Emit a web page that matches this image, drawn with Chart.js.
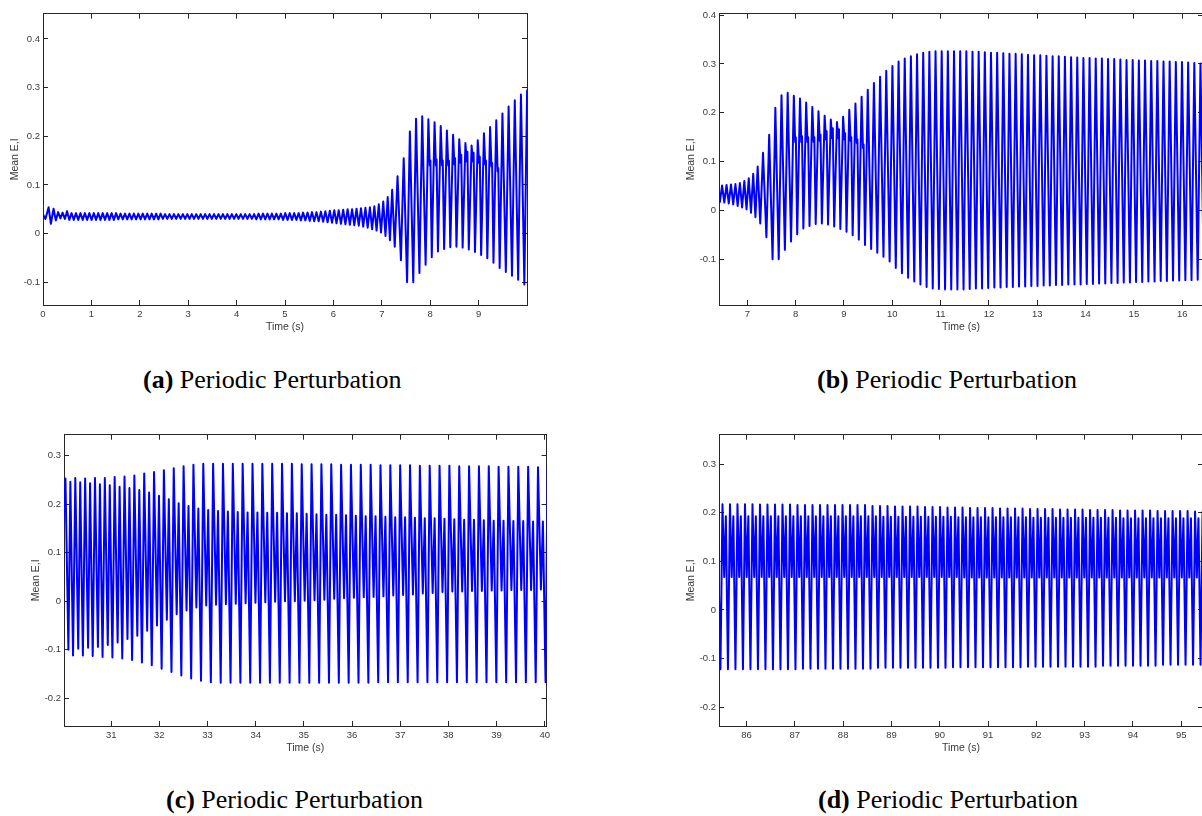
<!DOCTYPE html>
<html>
<head>
<meta charset="utf-8">
<script src="https://cdn.jsdelivr.net/npm/chart.js@4.4.1/dist/chart.umd.min.js"></script>
<style>
  html, body { margin: 0; padding: 0; background: #fff; }
  body { width: 1202px; height: 816px; overflow: hidden; position: relative; }
  canvas { position: absolute; }
  .cap { position: absolute; font-family: "Liberation Serif", "Times New Roman", serif; font-size: 26px;
         line-height: 26px; color: #000; white-space: nowrap; }
  .cap b { font-weight: bold; }
</style>
</head>
<body>
<canvas id="pa"></canvas>
<canvas id="pb"></canvas>
<canvas id="pc"></canvas>
<canvas id="pd"></canvas>
<div class="cap" style="left:143px;top:367px"><b>(a)</b> Periodic Perturbation</div>
<div class="cap" style="left:817px;top:367px"><b>(b)</b> Periodic Perturbation</div>
<div class="cap" style="left:166px;top:787px"><b>(c)</b> Periodic Perturbation</div>
<div class="cap" style="left:818px;top:787px"><b>(d)</b> Periodic Perturbation</div>
<script>
// ---------- Run 1 (0 – 16.5 s), shown in panels (a) and (b) ----------
// start-up transient: explicit turning points
const transientT = [0.000, 0.050, 0.116, 0.163, 0.218, 0.265, 0.313, 0.360, 0.405, 0.452, 0.498];
const transientV = [0.039, 0.030, 0.054, 0.020, 0.051, 0.027, 0.044, 0.031, 0.043, 0.030, 0.046];

// small fast oscillation: trough at smallStart + k*smallPeriod, peak half a period later
const smallStart = 0.544;
const smallPeriod = 0.092;
const smallTroughs = [
  0.028, 0.028, 0.028, 0.028, 0.028, 0.028, 0.028, 0.028, 0.028, 0.028, 0.028,
  0.029, 0.029, 0.029, 0.029, 0.029, 0.029, 0.029, 0.029, 0.029, 0.029,
  0.030, 0.030, 0.030, 0.030, 0.030, 0.030, 0.030, 0.030, 0.030, 0.030,
  0.030, 0.030, 0.030, 0.030, 0.030, 0.030, 0.030, 0.030, 0.030, 0.030,
  0.030, 0.029, 0.029, 0.029, 0.029, 0.029,
  0.029, 0.028, 0.028, 0.028,
  0.028, 0.027, 0.027,
  0.026, 0.025, 0.025,
  0.024, 0.023, 0.022,
  0.021, 0.020, 0.019,
  0.018, 0.017, 0.016,
  0.014, 0.012, 0.009, 0.006, 0.002, -0.005, -0.014
];
const smallPeaks = [
  0.042, 0.042, 0.042, 0.042, 0.042, 0.042, 0.042, 0.042, 0.042, 0.042, 0.042,
  0.041, 0.041, 0.041, 0.041, 0.041, 0.041, 0.041, 0.041, 0.041, 0.041,
  0.040, 0.040, 0.040, 0.040, 0.040, 0.040, 0.040, 0.040, 0.040, 0.040,
  0.040, 0.040, 0.040, 0.040, 0.040, 0.040, 0.040, 0.040, 0.040, 0.040,
  0.040, 0.041, 0.041, 0.041, 0.041, 0.041,
  0.041, 0.042, 0.042, 0.042,
  0.042, 0.043, 0.043,
  0.044, 0.044, 0.045,
  0.046, 0.047, 0.048,
  0.048, 0.049, 0.050,
  0.050, 0.051, 0.052,
  0.053, 0.054, 0.056, 0.060, 0.066, 0.075, 0.090
];

// large slow oscillation: trough at bigStart + i*bigPeriod, peak bigRise later
const bigStart = 7.2675;
const bigPeriod = 0.1275;
const bigRise = 0.0575;
const bigTroughs = [
  -0.027, -0.055, -0.100, -0.100, -0.081, -0.064, -0.049, -0.037, -0.032, -0.028,
  -0.027, -0.029, -0.033, -0.038, -0.044, -0.051, -0.060, -0.071, -0.079, -0.087,
  -0.095, -0.105, -0.118, -0.129, -0.138, -0.146, -0.152, -0.157, -0.160, -0.161,
  -0.162, -0.162, -0.162, -0.162, -0.161, -0.160, -0.160, -0.159, -0.158, -0.158,
  -0.157, -0.157, -0.156, -0.156, -0.155, -0.155, -0.154, -0.154, -0.153, -0.153,
  -0.152, -0.152, -0.152, -0.151, -0.151, -0.150, -0.150, -0.149, -0.149, -0.148,
  -0.148, -0.147, -0.147, -0.146, -0.146, -0.145, -0.145, -0.144, -0.144, -0.143,
  -0.143, -0.142, -0.142
];
const bigPeaks = [
  0.118, 0.155, 0.210, 0.236, 0.241, 0.235, 0.229, 0.221, 0.212, 0.203,
  0.194, 0.186, 0.181, 0.192, 0.206, 0.219, 0.233, 0.247, 0.261, 0.274,
  0.286, 0.296, 0.305, 0.311, 0.316, 0.320, 0.323, 0.325, 0.326, 0.326,
  0.326, 0.326, 0.326, 0.326, 0.325, 0.325, 0.324, 0.323, 0.323, 0.322,
  0.321, 0.321, 0.320, 0.319, 0.318, 0.318, 0.317, 0.316, 0.316, 0.315,
  0.314, 0.313, 0.312, 0.312, 0.311, 0.311, 0.310, 0.310, 0.309, 0.308,
  0.308, 0.307, 0.307, 0.306, 0.306, 0.305, 0.305, 0.304, 0.304, 0.303,
  0.302, 0.301, 0.301
];
// small notch on the falling edge of some large cycles
const notchCycles = [5, 6, 7, 8, 9, 10, 11, 12, 13, 14, 15, 16];
const notchLow    = [0.140, 0.140, 0.140, 0.140, 0.142, 0.145, 0.148, 0.148, 0.145, 0.142, 0.138, 0.128];
const notchHigh   = [0.150, 0.152, 0.150, 0.150, 0.155, 0.162, 0.168, 0.166, 0.158, 0.150, 0.145, 0.135];

// ---------- Run 2 (30 – 40 s), panel (c): period-2 cycle  high peak, shallow trough, mid peak, deep trough ----------
const cLead = [30.0, 0.14];
const cStart = 30.05;
const cPeriod = 0.2044;
const cPhase = [0, 0.30, 0.50, 0.77];
const cHigh = [
  0.253, 0.254, 0.253, 0.254, 0.254, 0.256, 0.257, 0.259, 0.263, 0.266,
  0.270, 0.274, 0.278, 0.281, 0.283, 0.283, 0.283, 0.283, 0.283, 0.283,
  0.283, 0.283, 0.283, 0.283, 0.282, 0.282, 0.282, 0.282, 0.281, 0.281,
  0.281, 0.281, 0.280, 0.280, 0.280, 0.280, 0.279, 0.279, 0.279, 0.279,
  0.278, 0.278, 0.278, 0.278, 0.277, 0.277, 0.277, 0.277, 0.276
];
const cShallow = [
  -0.100, -0.098, -0.096, -0.094, -0.090, -0.085, -0.078, -0.071, -0.061, -0.050,
  -0.038, -0.027, -0.019, -0.013, -0.009, -0.007, -0.006, -0.005, -0.004, -0.003,
  -0.002, -0.001, 0.000, 0.000, 0.001, 0.002, 0.003, 0.005, 0.006, 0.007,
  0.008, 0.009, 0.010, 0.012, 0.013, 0.014, 0.016, 0.017, 0.019, 0.020,
  0.020, 0.021, 0.021, 0.022, 0.022, 0.023, 0.023, 0.023, 0.024
];
const cMid = [
  0.246, 0.245, 0.243, 0.241, 0.239, 0.236, 0.233, 0.229, 0.224, 0.217,
  0.210, 0.202, 0.196, 0.191, 0.188, 0.186, 0.185, 0.184, 0.183, 0.183,
  0.182, 0.182, 0.181, 0.181, 0.180, 0.179, 0.178, 0.178, 0.177, 0.176,
  0.175, 0.175, 0.174, 0.173, 0.173, 0.172, 0.171, 0.171, 0.170, 0.169,
  0.168, 0.168, 0.167, 0.166, 0.166, 0.165, 0.165, 0.164, 0.164
];
const cDeep = [
  -0.112, -0.112, -0.113, -0.115, -0.116, -0.118, -0.121, -0.126, -0.132, -0.139,
  -0.146, -0.153, -0.159, -0.164, -0.167, -0.168, -0.168, -0.168, -0.168, -0.168,
  -0.168, -0.168, -0.168, -0.168, -0.168, -0.168, -0.168, -0.168, -0.168, -0.168,
  -0.168, -0.167, -0.167, -0.167, -0.167, -0.167, -0.167, -0.167, -0.167, -0.167,
  -0.167, -0.167, -0.167, -0.167, -0.167, -0.167, -0.167, -0.167, -0.167
];
const cTail = [40.06, 0.276];

// ---------- Run 3 (85.4 – 95.5 s), panel (d): deep trough, high peak, shallow trough, mid peak ----------
const dLead = [85.40, 0.19];
const dStart = 85.46;
const dPeriod = 0.1553;
const dPhase = [0, 0.27, 0.50, 0.72];
const dDeep = [
  -0.122, -0.122, -0.122, -0.122, -0.122, -0.122, -0.122, -0.122, -0.122, -0.122, -0.122,
  -0.121, -0.121, -0.121, -0.121, -0.121, -0.121, -0.121, -0.121, -0.121, -0.121,
  -0.119, -0.119, -0.119, -0.119, -0.119, -0.119, -0.119, -0.119, -0.119, -0.119,
  -0.118, -0.118, -0.118, -0.118, -0.118, -0.118, -0.118, -0.118, -0.118, -0.118,
  -0.117, -0.117, -0.117, -0.117, -0.117, -0.117, -0.117, -0.117, -0.117, -0.117,
  -0.115, -0.115, -0.115, -0.115, -0.115, -0.115, -0.115, -0.115,
  -0.113, -0.113, -0.113, -0.113, -0.113, -0.113
];
const dHigh = [
  0.218, 0.218, 0.218, 0.218, 0.218, 0.217, 0.217, 0.217, 0.217, 0.217,
  0.216, 0.216, 0.216, 0.216, 0.216, 0.216, 0.216, 0.216, 0.216, 0.216,
  0.214, 0.214, 0.214, 0.213, 0.213, 0.213, 0.213, 0.212, 0.212, 0.212,
  0.211, 0.211, 0.211, 0.210, 0.210, 0.210, 0.210, 0.209, 0.209, 0.209,
  0.209, 0.208, 0.208, 0.208, 0.208, 0.207, 0.207, 0.207, 0.207, 0.206,
  0.206, 0.206, 0.206, 0.205, 0.205, 0.205, 0.205, 0.205, 0.204, 0.204,
  0.204, 0.204, 0.204, 0.203, 0.203
];
const dShallow = [
  0.068, 0.068, 0.068, 0.068, 0.068, 0.068, 0.068, 0.068, 0.068, 0.068,
  0.068, 0.068, 0.068, 0.068, 0.068, 0.068, 0.068, 0.068, 0.068, 0.068,
  0.068, 0.068, 0.068, 0.068, 0.068, 0.068, 0.068, 0.068, 0.068, 0.068,
  0.068, 0.068, 0.067, 0.067, 0.067, 0.067, 0.067, 0.067, 0.067, 0.067,
  0.067, 0.067, 0.067, 0.067, 0.067, 0.067, 0.067, 0.067, 0.067, 0.067,
  0.067, 0.067, 0.067, 0.067, 0.067, 0.067, 0.067, 0.067, 0.067, 0.067,
  0.067, 0.067, 0.067, 0.067, 0.067
];
const dMid = [
  0.193, 0.193, 0.193, 0.193, 0.193, 0.193, 0.193, 0.193, 0.193, 0.193,
  0.193, 0.193, 0.193, 0.193, 0.193, 0.193, 0.193, 0.193, 0.193, 0.193, 0.193,
  0.192, 0.192, 0.192, 0.192, 0.192, 0.192, 0.192, 0.192, 0.192, 0.192,
  0.191, 0.191, 0.191, 0.191, 0.191, 0.191, 0.191, 0.191, 0.191, 0.191,
  0.190, 0.190, 0.190, 0.190, 0.190, 0.190, 0.190, 0.190, 0.190, 0.190, 0.190, 0.190,
  0.189, 0.189, 0.189, 0.189, 0.189, 0.189, 0.189, 0.189, 0.189, 0.189, 0.189, 0.189
];

// ---------- axis ranges and tick labels ----------
const aXRange = [0, 10.0],     aYRange = [-0.147, 0.452];
const bXRange = [6.414, 16.43], bYRange = [-0.194, 0.403];
const cXRange = [30.02, 40.04], cYRange = [-0.257, 0.343];
const dXRange = [85.43, 95.45], dYRange = [-0.239, 0.361];
const aXTicks = [0, 1, 2, 3, 4, 5, 6, 7, 8, 9];
const bXTicks = [7, 8, 9, 10, 11, 12, 13, 14, 15, 16];
const cXTicks = [31, 32, 33, 34, 35, 36, 37, 38, 39, 40];
const dXTicks = [86, 87, 88, 89, 90, 91, 92, 93, 94, 95];
const abYTicks = [-0.1, 0, 0.1, 0.2, 0.3, 0.4];
const cdYTicks = [-0.2, -0.1, 0, 0.1, 0.2, 0.3];

// ---------- build the traces ----------
function buildRun1() {
  const pts = [];
  transientT.forEach((t, i) => pts.push({ x: t, y: transientV[i] }));
  smallTroughs.forEach((v, k) => {
    const t = smallStart + k * smallPeriod;
    pts.push({ x: t, y: v });
    pts.push({ x: t + smallPeriod / 2, y: smallPeaks[k] });
  });
  bigTroughs.forEach((v, i) => {
    const t = bigStart + i * bigPeriod;
    pts.push({ x: t, y: v });
    pts.push({ x: t + bigRise, y: bigPeaks[i] });
    const n = notchCycles.indexOf(i);
    if (n >= 0) {
      pts.push({ x: t + bigRise + 0.028, y: notchLow[n] });
      pts.push({ x: t + bigRise + 0.042, y: notchHigh[n] });
    }
  });
  return pts;
}

function buildCycles(lead, start, period, phase, series, tail) {
  const pts = [{ x: lead[0], y: lead[1] }];
  series[0].forEach((_, j) => {
    const t = start + j * period;
    series.forEach((s, m) => pts.push({ x: t + phase[m] * period, y: s[j] }));
  });
  if (tail) pts.push({ x: tail[0], y: tail[1] });
  return pts;
}

const run1 = buildRun1();
const run2 = buildCycles(cLead, cStart, cPeriod, cPhase, [cHigh, cShallow, cMid, cDeep], cTail);
const run3 = buildCycles(dLead, dStart, dPeriod, dPhase, [dDeep, dHigh, dShallow, dMid], null);

// ---------- chart styling ----------
const FONT = '"Liberation Sans", Arial, Helvetica, sans-serif';
const AXIS_COLOR = '#262626';
const TEXT_COLOR = '#3a3a3a';
const TRACE_COLOR = '#0000ff';
const PAD_L = 43, PAD_T = 10, PAD_R = 10, PAD_B = 28;

function fmt(v) {
  if (Math.abs(v) < 1e-9) return '0';
  return Number.isInteger(v) ? String(v) : v.toFixed(1);
}

function scaleOpts(pos, range, ticks, withLabels, title) {
  const horiz = pos === 'bottom' || pos === 'top';
  const o = {
    type: 'linear', position: pos, min: range[0], max: range[1], bounds: 'data',
    afterBuildTicks: s => { s.ticks = ticks.map(v => ({ value: v })); },
    afterFit: s => {
      if (horiz) s.height = pos === 'bottom' ? PAD_B : 0;
      else s.width = pos === 'left' ? PAD_L : 0;
    },
    grid: { drawOnChartArea: false, drawTicks: true, tickLength: -5, color: AXIS_COLOR, lineWidth: 1 },
    border: { display: true, color: AXIS_COLOR, width: 1 },
    ticks: {
      display: withLabels, autoSkip: false, maxRotation: 0, minRotation: 0,
      font: { family: FONT, size: 9.5 }, color: TEXT_COLOR,
      padding: horiz ? 9 : 8, callback: v => fmt(v)
    },
    title: { display: false }
  };
  if (title) {
    o.title = {
      display: true, text: title, color: TEXT_COLOR,
      font: { family: FONT, size: 10.5 },
      padding: horiz ? { top: 0, bottom: 0 } : { top: 8.4, bottom: 0 }
    };
  }
  return o;
}

function makePanel(id, rect, xRange, yRange, xTicks, yTicks, pts) {
  const cv = document.getElementById(id);
  cv.width = rect.r - rect.l + PAD_L + PAD_R;
  cv.height = rect.b - rect.t + PAD_T + PAD_B;
  cv.style.left = (rect.l - PAD_L) + 'px';
  cv.style.top = (rect.t - PAD_T) + 'px';
  new Chart(cv, {
    type: 'line',
    data: {
      datasets: [{
        data: pts, xAxisID: 'x', yAxisID: 'y',
        borderColor: TRACE_COLOR, borderWidth: 2, pointRadius: 0,
        tension: 0, fill: false, borderJoinStyle: 'round'
      }]
    },
    options: {
      responsive: false, animation: false, devicePixelRatio: 1,
      parsing: false, normalized: true,
      layout: { padding: { left: 0, top: PAD_T, right: PAD_R, bottom: 0 } },
      plugins: { legend: { display: false }, tooltip: { enabled: false } },
      scales: {
        x: scaleOpts('bottom', xRange, xTicks, true, 'Time (s)'),
        x2: scaleOpts('top', xRange, xTicks, false, null),
        y: scaleOpts('left', yRange, yTicks, true, 'Mean E,I'),
        y2: scaleOpts('right', yRange, yTicks, false, null)
      }
    }
  });
}

makePanel('pa', { l: 43, t: 10, r: 527, b: 305 }, aXRange, aYRange, aXTicks, abYTicks, run1);
makePanel('pb', { l: 719, t: 10, r: 1203, b: 305 }, bXRange, bYRange, bXTicks, abYTicks, run1);
makePanel('pc', { l: 64, t: 431, r: 549, b: 726 }, cXRange, cYRange, cXTicks, cdYTicks, run2);
makePanel('pd', { l: 719, t: 431, r: 1203, b: 726 }, dXRange, dYRange, dXTicks, cdYTicks, run3);
</script>
</body>
</html>
